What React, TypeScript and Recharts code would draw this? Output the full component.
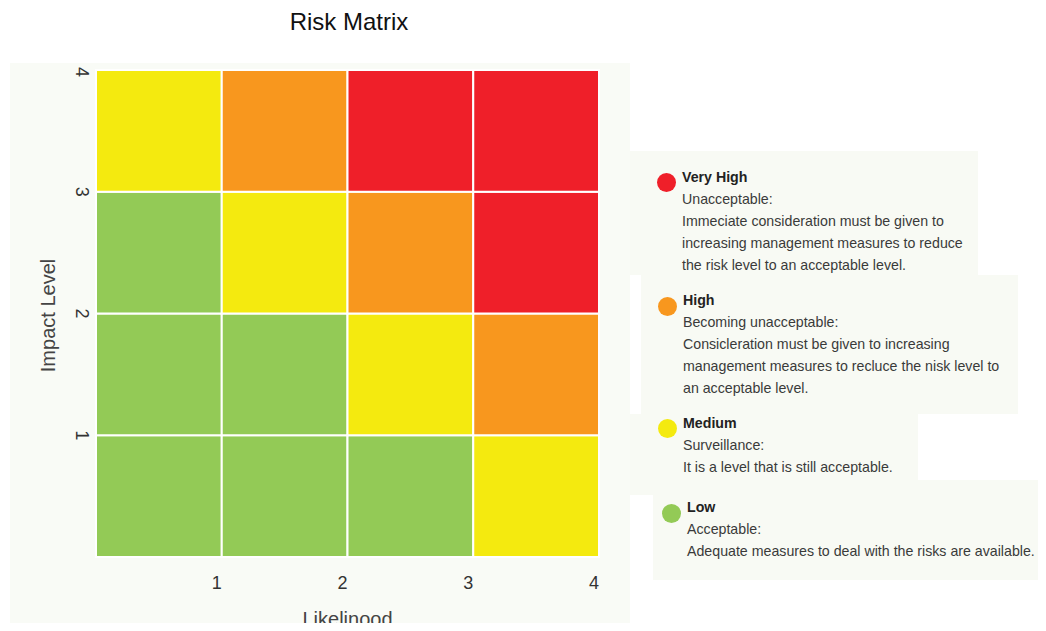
import { ComposedChart, XAxis, YAxis, ReferenceArea, Scatter } from "recharts";

// axes
const likelihoodTicks = [1, 2, 3, 4];
const impactTicks = [1, 2, 3, 4];

// risk level of each cell, rows from impact 1 (bottom) to impact 4 (top), columns likelihood 1..4
const impactRow1 = ["Low", "Low", "Low", "Medium"];
const impactRow2 = ["Low", "Low", "Medium", "High"];
const impactRow3 = ["Low", "Medium", "High", "Very High"];
const impactRow4 = ["Medium", "High", "Very High", "Very High"];
const matrixRows = [impactRow1, impactRow2, impactRow3, impactRow4];

// legend
const levelNames = ["Very High", "High", "Medium", "Low"];
const levelColors = ["#ef1f29", "#f8971e", "#f4ea0f", "#93ca56"];
const levelSubtitles = ["Unacceptable:", "Becoming unacceptable:", "Surveillance:", "Acceptable:"];
const levelDescriptions = [
  [
    "Immeciate consideration must be given to",
    "increasing management measures to reduce",
    "the risk level to an acceptable level.",
  ],
  [
    "Consicleration must be given to increasing",
    "management measures to recluce the nisk level to",
    "an acceptable level.",
  ],
  ["It is a level that is still acceptable."],
  ["Adequate measures to deal with the risks are available."],
];

const colorOf = (level: string) => levelColors[levelNames.indexOf(level)];

const cells = matrixRows.flatMap((row, r) =>
  row.map((level, c) => ({ x: c + 0.5, y: r + 0.5, x1: c, x2: c + 1, y1: r, y2: r + 1, level }))
);

const FONT = '"Liberation Sans", Arial, sans-serif';
const PANEL = "#f8faf4";

const XTick = (props: any) => (
  <text x={props.x - 5} y={props.y + 24} textAnchor="middle" fontSize={18} fill="#333" fontFamily={FONT}>
    {props.payload.value}
  </text>
);

const YTick = (props: any) => (
  <text
    x={0}
    y={0}
    transform={`translate(${props.x - 6},${props.y}) rotate(90)`}
    textAnchor="middle"
    dominantBaseline="central"
    fontSize={18}
    fill="#333"
    fontFamily={FONT}
  >
    {props.payload.value}
  </text>
);

const XLabel = (props: any) => {
  const vb = props.viewBox;
  return (
    <text x={vb.x + vb.width / 2} y={vb.y + vb.height - 4} textAnchor="middle" fontSize={20} fill="#444" fontFamily={FONT}>
      Likelinood
    </text>
  );
};

const YLabel = (props: any) => {
  const vb = props.viewBox;
  const cx = vb.x + 38;
  const cy = vb.y + vb.height / 2 + 2;
  return (
    <text
      transform={`translate(${cx},${cy}) rotate(-90)`}
      textAnchor="middle"
      dominantBaseline="central"
      fontSize={20}
      fill="#444"
      fontFamily={FONT}
    >
      Impact Level
    </text>
  );
};

const itemTops = [166, 289, 412, 496];
const itemLefts = [682, 683, 683, 687];

export default function App() {
  return (
    <div style={{ position: "relative", margin: -8, width: 1046, height: 631, background: "#fff", fontFamily: FONT }}>
      <div style={{ position: "absolute", left: 0, width: 698, top: 8, textAlign: "center", fontSize: 24, color: "#111" }}>
        Risk Matrix
      </div>

      {/* legend panels */}
      <div style={{ position: "absolute", left: 630, top: 151, width: 348, height: 124, background: PANEL }} />
      <div style={{ position: "absolute", left: 641, top: 275, width: 377, height: 139, background: PANEL }} />
      <div style={{ position: "absolute", left: 630, top: 414, width: 288, height: 66, background: PANEL }} />
      <div style={{ position: "absolute", left: 630, top: 480, width: 416, height: 15, background: PANEL }} />
      <div style={{ position: "absolute", left: 653, top: 495, width: 393, height: 85, background: PANEL }} />

      <div style={{ position: "absolute", left: 10, top: 63 }}>
        <ComposedChart
          width={620}
          height={567}
          data={cells}
          margin={{ top: 7, right: 31, bottom: 0, left: 0 }}
          style={{ background: "#f9fbf6" }}
        >
          <XAxis
            type="number"
            dataKey="x"
            domain={[0, 4]}
            ticks={likelihoodTicks}
            height={73}
            axisLine={false}
            tickLine={false}
            tick={<XTick />}
            label={<XLabel />}
          />
          <YAxis
            type="number"
            dataKey="y"
            domain={[0, 4]}
            ticks={impactTicks}
            width={86}
            axisLine={false}
            tickLine={false}
            tick={<YTick />}
            label={<YLabel />}
          />
          {cells.map((c, i) => (
            <ReferenceArea
              key={i}
              x1={c.x1}
              x2={c.x2}
              y1={c.y1}
              y2={c.y2}
              fill={colorOf(c.level)}
              fillOpacity={1}
              stroke="#ffffff"
              strokeWidth={2}
            />
          ))}
          <Scatter dataKey="y" isAnimationActive={false} shape={() => <g />} />
        </ComposedChart>
      </div>

      {levelNames.map((name, i) => (
        <div
          key={name}
          style={{
            position: "absolute",
            left: itemLefts[i],
            top: itemTops[i],
            fontSize: 14.2,
            lineHeight: "22px",
            color: "#3a3a3a",
            whiteSpace: "nowrap",
          }}
        >
          <span
            style={{
              position: "absolute",
              left: -25.5,
              top: 4 + (i % 2 === 0 ? 3 : 4),
              width: 19,
              height: 19,
              borderRadius: "50%",
              background: levelColors[i],
            }}
          />
          <div style={{ fontWeight: "bold", color: "#222" }}>{name}</div>
          <div>{levelSubtitles[i]}</div>
          {levelDescriptions[i].map((line) => (
            <div key={line}>{line}</div>
          ))}
        </div>
      ))}
    </div>
  );
}
